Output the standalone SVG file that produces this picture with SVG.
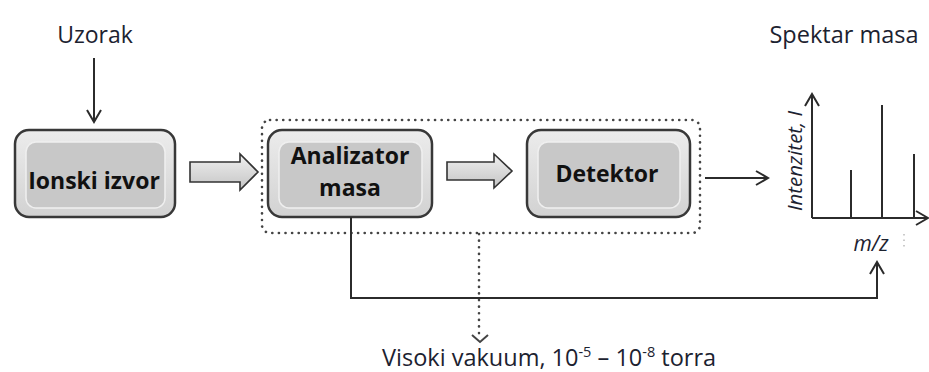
<svg xmlns="http://www.w3.org/2000/svg" width="929" height="372" viewBox="0 0 929 372">
<style>
.lbl{font-family:"Open Sans","Liberation Sans",sans-serif;fill:#1c2230;}
.bold{font-family:"Open Sans","Liberation Sans",sans-serif;font-weight:bold;fill:#111;font-size:23px;}
.outer{fill:url(#g1);stroke:#383838;stroke-width:2.5;}
.inner{fill:#c8c8c8;stroke:#efefef;stroke-width:1.5;}
.blk{fill:url(#g2);stroke:#333;stroke-width:1.6;stroke-linejoin:miter;}
.ln{fill:none;stroke:#2b2b2b;stroke-width:2;}
.dot{fill:none;stroke:#444;stroke-width:2.6;stroke-dasharray:0.1 6.5;stroke-linecap:round;}
</style>
<defs>
<linearGradient id="g1" x1="0" y1="0" x2="0" y2="1">
<stop offset="0" stop-color="#ececec"/><stop offset="1" stop-color="#d2d2d2"/>
</linearGradient>
<linearGradient id="g2" x1="0" y1="0" x2="0" y2="1">
<stop offset="0" stop-color="#f0f0f0"/><stop offset="1" stop-color="#c4c4c4"/>
</linearGradient>
<marker id="ah" viewBox="0 0 16 16" refX="14" refY="8" markerWidth="16" markerHeight="16" markerUnits="userSpaceOnUse" orient="auto">
<path d="M2 1 L14 8 L2 15" fill="none" stroke="#2b2b2b" stroke-width="2"/>
</marker>
</defs>

<text class="lbl" x="95" y="43" font-size="23" text-anchor="middle">Uzorak</text>
<text class="lbl" x="844" y="43" font-size="23.5" text-anchor="middle">Spektar masa</text>

<g id="ionski-izvor">
<rect class="outer" x="15" y="130" width="160" height="87" rx="14"/>
<rect class="inner" x="26" y="142" width="139" height="66" rx="10"/>
<text class="bold" x="94" y="189" text-anchor="middle">Ionski izvor</text>
</g>

<g id="vakuum-okvir">
<rect class="dot" x="262" y="120" width="438" height="113" rx="8"/>
</g>

<g id="analizator-masa">
<rect class="outer" x="268" y="130" width="164" height="87" rx="14"/>
<rect class="inner" x="279" y="142" width="143" height="66" rx="10"/>
<text class="bold" x="350" y="164" text-anchor="middle">Analizator</text>
<text class="bold" x="350" y="196" text-anchor="middle">masa</text>
</g>

<g id="detektor">
<rect class="outer" x="527" y="130" width="163" height="87" rx="14"/>
<rect class="inner" x="538" y="142" width="142" height="66" rx="10"/>
<text class="bold" x="607" y="182" text-anchor="middle">Detektor</text>
</g>

<g id="spektar">
<line class="ln" x1="812" y1="218" x2="812" y2="94" marker-end="url(#ah)"/>
<line class="ln" x1="812" y1="218" x2="928" y2="218" marker-end="url(#ah)"/>
<line class="ln" x1="851" y1="218" x2="851" y2="170"/>
<line class="ln" x1="882" y1="218" x2="882" y2="105"/>
<line class="ln" x1="914" y1="218" x2="914" y2="154"/>
<text class="lbl" font-size="20.5" font-style="italic" text-anchor="middle" transform="translate(802,161) rotate(-90)">Intenzitet, I</text>
<text class="lbl" x="871" y="251" font-size="21" font-style="italic" text-anchor="middle">m/z</text>
<line x1="904" y1="234" x2="904" y2="248" stroke="#bbb" stroke-width="1.5" stroke-dasharray="1.5 4"/>
</g>

<g id="connectors">
<line class="ln" x1="94" y1="58" x2="94" y2="122" marker-end="url(#ah)"/>
<path class="blk" d="M190 162 H240 V154 L258 172 L240 190 V182 H190 Z"/>
<path class="blk" d="M447 162 H494 V154 L512 171 L494 188 V180 H447 Z"/>
<line class="ln" x1="705" y1="178" x2="768" y2="178" marker-end="url(#ah)"/>
<path class="ln" d="M351 217 V298 H877 V262" marker-end="url(#ah)"/>
<line class="dot" x1="479" y1="234" x2="479" y2="334"/>
<path d="M472 335 L480 342 L488 335" fill="none" stroke="#444" stroke-width="2"/>
</g>

<text class="lbl" x="382" y="366" font-size="23.5">Visoki vakuum, 10<tspan font-size="14.5" dy="-9">-5</tspan><tspan dy="9"> – 10</tspan><tspan font-size="14.5" dy="-9">-8</tspan><tspan dy="9"> torra</tspan></text>
</svg>
